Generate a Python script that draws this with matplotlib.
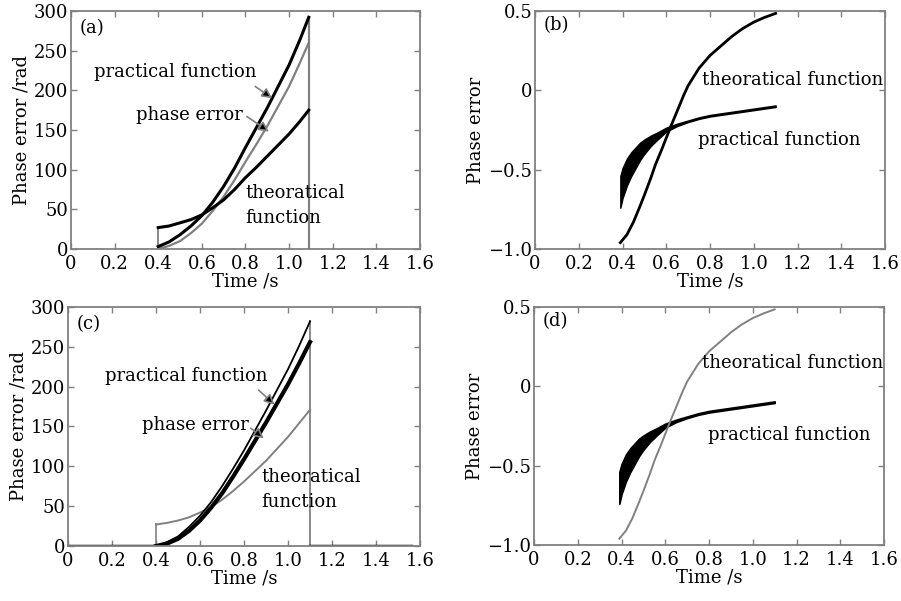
import numpy as np
import matplotlib
matplotlib.use("Agg")
import matplotlib.pyplot as plt

# -------------------------------
# DATA
# -------------------------------

x_ticks = [0, 0.2, 0.4, 0.6, 0.8, 1.0, 1.2, 1.4, 1.6]
x_ticklabels = ["0", "0.2", "0.4", "0.6", "0.8", "1.0", "1.2", "1.4", "1.6"]
rad_ticks = [0, 50, 100, 150, 200, 250, 300]
err_ticks = [-1.0, -0.5, 0, 0.5]
err_ticklabels = ["\u22121.0", "\u22120.5", "0", "0.5"]

# panel (a)
t_a = [0.40, 0.45, 0.50, 0.55, 0.60, 0.65, 0.70, 0.75, 0.80, 0.85, 0.90, 0.95, 1.00, 1.05, 1.09]
prac_a = [3, 9, 18, 29, 42, 59, 79, 102, 128, 153, 178, 205, 232, 264, 292]
perr_a = [0, 4, 10, 20, 32, 48, 66, 87, 110, 132, 155, 180, 205, 235, 260]
theo_a = [27, 29, 33, 37, 43, 52, 62, 75, 90, 103, 117, 131, 145, 161, 175]

# panel (c)
t_c = [0.40, 0.45, 0.50, 0.55, 0.60, 0.65, 0.70, 0.75, 0.80, 0.85, 0.90, 0.95, 1.00, 1.05, 1.10]
prac_c = [0, 5, 12, 24, 38, 55, 75, 97, 120, 145, 170, 196, 222, 251, 282]
perr_c = [0, 3, 9, 19, 32, 48, 66, 87, 109, 132, 155, 179, 203, 229, 256]
theo_c = [27, 29, 32, 36, 42, 49, 58, 69, 81, 94, 107, 122, 137, 154, 171]
zero_pre = [0.0, 0.40]
zero_post = [1.10, 1.56]

# panels (b), (d): theoretical phase error curve
t_th = [0.39, 0.42, 0.45, 0.48, 0.50, 0.53, 0.55, 0.58, 0.60, 0.62, 0.65, 0.68,
        0.70, 0.75, 0.80, 0.85, 0.90, 0.95, 1.00, 1.05, 1.10]
theo_b = [-0.96, -0.91, -0.83, -0.73, -0.66, -0.55, -0.47, -0.37, -0.30, -0.23, -0.13, -0.03,
          0.03, 0.14, 0.22, 0.28, 0.34, 0.39, 0.43, 0.46, 0.485]
theo_d = [-0.96, -0.91, -0.83, -0.73, -0.66, -0.55, -0.47, -0.37, -0.30, -0.23, -0.13, -0.03,
          0.03, 0.14, 0.22, 0.28, 0.34, 0.39, 0.43, 0.46, 0.485]

# practical function band (envelope of the oscillating trace)
t_pr = [0.39, 0.40, 0.42, 0.44, 0.46, 0.48, 0.50, 0.53, 0.56, 0.60, 0.65,
        0.70, 0.75, 0.80, 0.90, 1.00, 1.10]
pr_hi = [-0.54, -0.49, -0.43, -0.39, -0.36, -0.33, -0.31, -0.285, -0.265, -0.235, -0.21,
         -0.19, -0.17, -0.155, -0.135, -0.115, -0.095]
pr_lo = [-0.74, -0.68, -0.60, -0.54, -0.49, -0.44, -0.40, -0.35, -0.31, -0.26, -0.225,
         -0.20, -0.18, -0.165, -0.145, -0.125, -0.105]

# -------------------------------
# STYLE
# -------------------------------

plt.rcParams["font.family"] = ["DejaVu Serif"]
FS = 13
plt.rcParams["font.size"] = FS
GREY = "0.5"

fig = plt.figure(figsize=(9.01, 6.01), dpi=100)

def style_axes(ax, yticks, yticklabels, ylabel, ylim):
    ax.set_xlim(0, 1.6)
    ax.set_ylim(*ylim)
    ax.set_xticks(x_ticks)
    ax.set_xticklabels(x_ticklabels)
    ax.set_yticks(yticks)
    ax.set_yticklabels(yticklabels)
    ax.tick_params(direction="in", length=4, width=1, color=GREY,
                   top=True, right=True, labelsize=FS, pad=2)
    ax.tick_params(axis="x", pad=4)
    for sp in ax.spines.values():
        sp.set_color(GREY)
        sp.set_linewidth(1.3)
    ax.set_xlabel("Time /s", fontsize=FS, labelpad=0)
    ax.set_ylabel(ylabel, fontsize=FS, labelpad=2)

def arrow(ax, start, end):
    ax.annotate("", xy=end, xytext=start,
                arrowprops=dict(arrowstyle="-|>", ec=GREY, fc="k",
                                lw=1.2, mutation_scale=15))

# -------------------------------
# (a)
# -------------------------------
ax = fig.add_axes([0.0788, 0.5857, 0.3873, 0.396])
ax.plot([1.09, 1.09], [0, 292], color=GREY, lw=1.6)
ax.plot([0.40, 0.40], [0, 27], color=GREY, lw=1.3)
ax.plot(t_a, perr_a, color=GREY, lw=1.6)
ax.plot(t_a, theo_a, color="k", lw=2.2)
ax.plot(t_a, prac_a, color="k", lw=2.2)
style_axes(ax, rad_ticks, [str(v) for v in rad_ticks], "Phase error /rad", (0, 300))
ax.text(0.04, 278, "(a)", fontsize=FS, va="center")
ax.text(0.107, 223, "practical function", fontsize=FS, va="center")
arrow(ax, (0.834, 207), (0.933, 188))
ax.text(0.30, 169, "phase error", fontsize=FS, va="center")
arrow(ax, (0.796, 169), (0.918, 146))
ax.text(0.80, 70, "theoratical", fontsize=FS, va="center")
ax.text(0.80, 39, "function", fontsize=FS, va="center")

# -------------------------------
# (b)
# -------------------------------
ax = fig.add_axes([0.5938, 0.5857, 0.3885, 0.396])
ax.plot(t_th, theo_b, color="k", lw=2)
ax.fill_between(t_pr, pr_lo, pr_hi, color="k", lw=1.0)
style_axes(ax, err_ticks, err_ticklabels, "Phase error", (-1.0, 0.5))
ax.text(0.04, 0.41, "(b)", fontsize=FS, va="center")
ax.text(0.762, 0.065, "theoratical function", fontsize=FS, va="center")
ax.text(0.747, -0.31, "practical function", fontsize=FS, va="center")

# -------------------------------
# (c)
# -------------------------------
ax = fig.add_axes([0.0755, 0.0915, 0.3907, 0.3977])
ax.plot([1.10, 1.10], [0, 282], color=GREY, lw=1.3)
ax.plot([0.40, 0.40], [0, 27], color=GREY, lw=1.2)
ax.plot(zero_pre, [0, 0], color="k", lw=2.5)
ax.plot(zero_post, [0, 0], color="k", lw=2.5)
ax.plot(t_c, theo_c, color=GREY, lw=1.4)
ax.plot(t_c, prac_c, color="k", lw=1.3)
ax.plot(t_c, perr_c, color="k", lw=3)
style_axes(ax, rad_ticks, [str(v) for v in rad_ticks], "Phase error /rad", (0, 300))
ax.text(0.04, 278, "(c)", fontsize=FS, va="center")
ax.text(0.167, 213, "practical function", fontsize=FS, va="center")
arrow(ax, (0.857, 198), (0.948, 175))
ax.text(0.334, 152, "phase error", fontsize=FS, va="center")
arrow(ax, (0.82, 150), (0.90, 133))
ax.text(0.88, 87, "theoratical", fontsize=FS, va="center")
ax.text(0.88, 55, "function", fontsize=FS, va="center")

# -------------------------------
# (d)
# -------------------------------
ax = fig.add_axes([0.5927, 0.0932, 0.3885, 0.396])
ax.plot(t_th, theo_d, color=GREY, lw=1.4)
ax.fill_between(t_pr, pr_lo, pr_hi, color="k", lw=1.2)
style_axes(ax, err_ticks, err_ticklabels, "Phase error", (-1.0, 0.5))
ax.text(0.04, 0.41, "(d)", fontsize=FS, va="center")
ax.text(0.766, 0.147, "theoratical function", fontsize=FS, va="center")
ax.text(0.797, -0.306, "practical function", fontsize=FS, va="center")

fig.savefig("out.png", dpi=100)
